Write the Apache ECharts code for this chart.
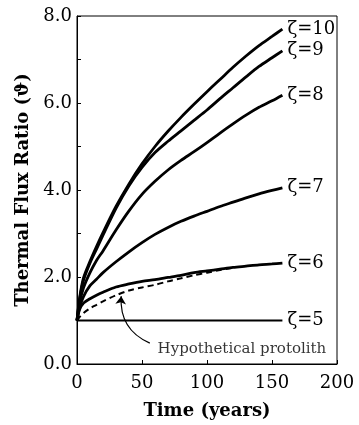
<!DOCTYPE html>
<html>
<head>
<meta charset="utf-8">
<script src="https://cdn.jsdelivr.net/npm/echarts@6/dist/echarts.min.js"></script>
<style>
  html, body { margin: 0; padding: 0; background: #fff; }
  #chart { width: 359px; height: 425px; }
</style>
</head>
<body>
<div id="chart"></div>
<script>
// time (years) sample points
const years = [0, 2, 5, 10, 15, 20, 30, 40, 50, 60, 70, 80, 90, 100, 110, 120, 130, 140, 150, 158];

// thermal flux ratio for each zeta
const zeta10 = [1, 1.52, 1.98, 2.36, 2.7, 3.02, 3.62, 4.14, 4.6, 5.0, 5.35, 5.67, 5.97, 6.26, 6.54, 6.82, 7.08, 7.32, 7.53, 7.7];
const zeta9 = [1, 1.48, 1.92, 2.32, 2.64, 2.96, 3.58, 4.1, 4.52, 4.86, 5.12, 5.36, 5.6, 5.84, 6.1, 6.35, 6.6, 6.84, 7.04, 7.2];
const zeta8 = [1, 1.4, 1.75, 2.1, 2.38, 2.6, 3.08, 3.52, 3.9, 4.2, 4.46, 4.68, 4.88, 5.09, 5.31, 5.52, 5.72, 5.9, 6.05, 6.18];
const zeta7 = [1, 1.3, 1.55, 1.8, 1.95, 2.1, 2.35, 2.58, 2.79, 2.98, 3.14, 3.28, 3.4, 3.51, 3.62, 3.72, 3.82, 3.91, 3.99, 4.05];
const zeta6 = [1, 1.25, 1.4, 1.5, 1.58, 1.65, 1.77, 1.84, 1.9, 1.94, 1.99, 2.04, 2.1, 2.14, 2.18, 2.22, 2.25, 2.28, 2.3, 2.32];
const zeta5 = [1, 1, 1, 1, 1, 1, 1, 1, 1, 1, 1, 1, 1, 1, 1, 1, 1, 1, 1, 1];
// dashed protolith curve, runs into zeta=6 near 120 years
const protolith = [1, 1.08, 1.17, 1.28, 1.36, 1.44, 1.58, 1.69, 1.76, 1.82, 1.9, 1.97, 2.04, 2.1, 2.16, 2.21];

const curveNames = ['ζ=10', 'ζ=9', 'ζ=8', 'ζ=7', 'ζ=6', 'ζ=5'];
const curveValues = [zeta10, zeta9, zeta8, zeta7, zeta6, zeta5];

// annotation
const noteText = 'Hypothetical protolith';
const notePoint = [62, 0.34];
const arrowFrom = [56, 0.48];
const arrowTo = [34, 1.56];

const serif = 'DejaVu Serif';

const zip = (xs, ys) => ys.map((y, i) => [xs[i], y]);

const series = curveNames.map((name, i) => ({
  name: name,
  type: 'line',
  smooth: 0.3,
  symbol: 'none',
  data: zip(years, curveValues[i]),
  lineStyle: { color: '#000', width: name === 'ζ=5' ? 2 : 2.8 },
  endLabel: {
    show: true,
    formatter: name,
    color: '#000',
    fontFamily: serif,
    fontSize: 18,
    distance: 5
  },
  z: 3
}));

series.push({
  name: 'protolith',
  type: 'line',
  smooth: 0.3,
  symbol: 'none',
  data: zip(years, protolith),
  lineStyle: { color: '#000', width: 2, type: [6, 4] },
  z: 2
});

series.push({
  name: 'arrow',
  type: 'lines',
  coordinateSystem: 'cartesian2d',
  symbol: ['none', 'arrow'],
  symbolSize: 8,
  lineStyle: { color: '#000', width: 1.2, curveness: 0.35, opacity: 1 },
  data: [{ coords: [arrowFrom, arrowTo] }],
  z: 4
});

series.push({
  name: 'note',
  type: 'scatter',
  symbolSize: 0,
  data: [notePoint],
  label: {
    show: true,
    formatter: noteText,
    position: [0, 0],
    align: 'left',
    verticalAlign: 'middle',
    color: '#000',
    fontFamily: serif,
    fontSize: 15
  },
  silent: true,
  z: 5
});

const chart = echarts.init(document.getElementById('chart'));
chart.setOption({
  animation: false,
  backgroundColor: '#fff',
  grid: {
    left: 77,
    right: 22,
    top: 16,
    bottom: 61,
    show: true,
    borderColor: '#000',
    borderWidth: 1,
    outerBoundsMode: 'none'
  },
  xAxis: {
    type: 'value',
    min: 0,
    max: 200,
    interval: 50,
    name: 'Time (years)',
    nameLocation: 'middle',
    nameGap: 38,
    nameTextStyle: { color: '#000', fontFamily: serif, fontWeight: 'bold', fontSize: 18 },
    axisLine: { lineStyle: { color: '#000', width: 1 } },
    axisTick: { show: true, inside: true, length: 4, lineStyle: { color: '#000' } },
    axisLabel: { color: '#000', fontFamily: serif, fontSize: 18, margin: 10 },
    splitLine: { show: false }
  },
  yAxis: {
    type: 'value',
    min: 0,
    max: 8,
    interval: 1,
    name: 'Thermal Flux Ratio (ϑ)',
    nameLocation: 'middle',
    nameGap: 44,
    nameTextStyle: { color: '#000', fontFamily: serif, fontWeight: 'bold', fontSize: 18 },
    axisLine: { show: true, lineStyle: { color: '#000', width: 1 } },
    axisTick: { show: true, inside: true, length: 4, lineStyle: { color: '#000' } },
    axisLabel: {
      color: '#000',
      fontFamily: serif,
      fontSize: 18,
      margin: 5,
      formatter: v => (v % 2 === 0 ? v.toFixed(1) : '')
    },
    splitLine: { show: false }
  },
  series: series
});
</script>
</body>
</html>
